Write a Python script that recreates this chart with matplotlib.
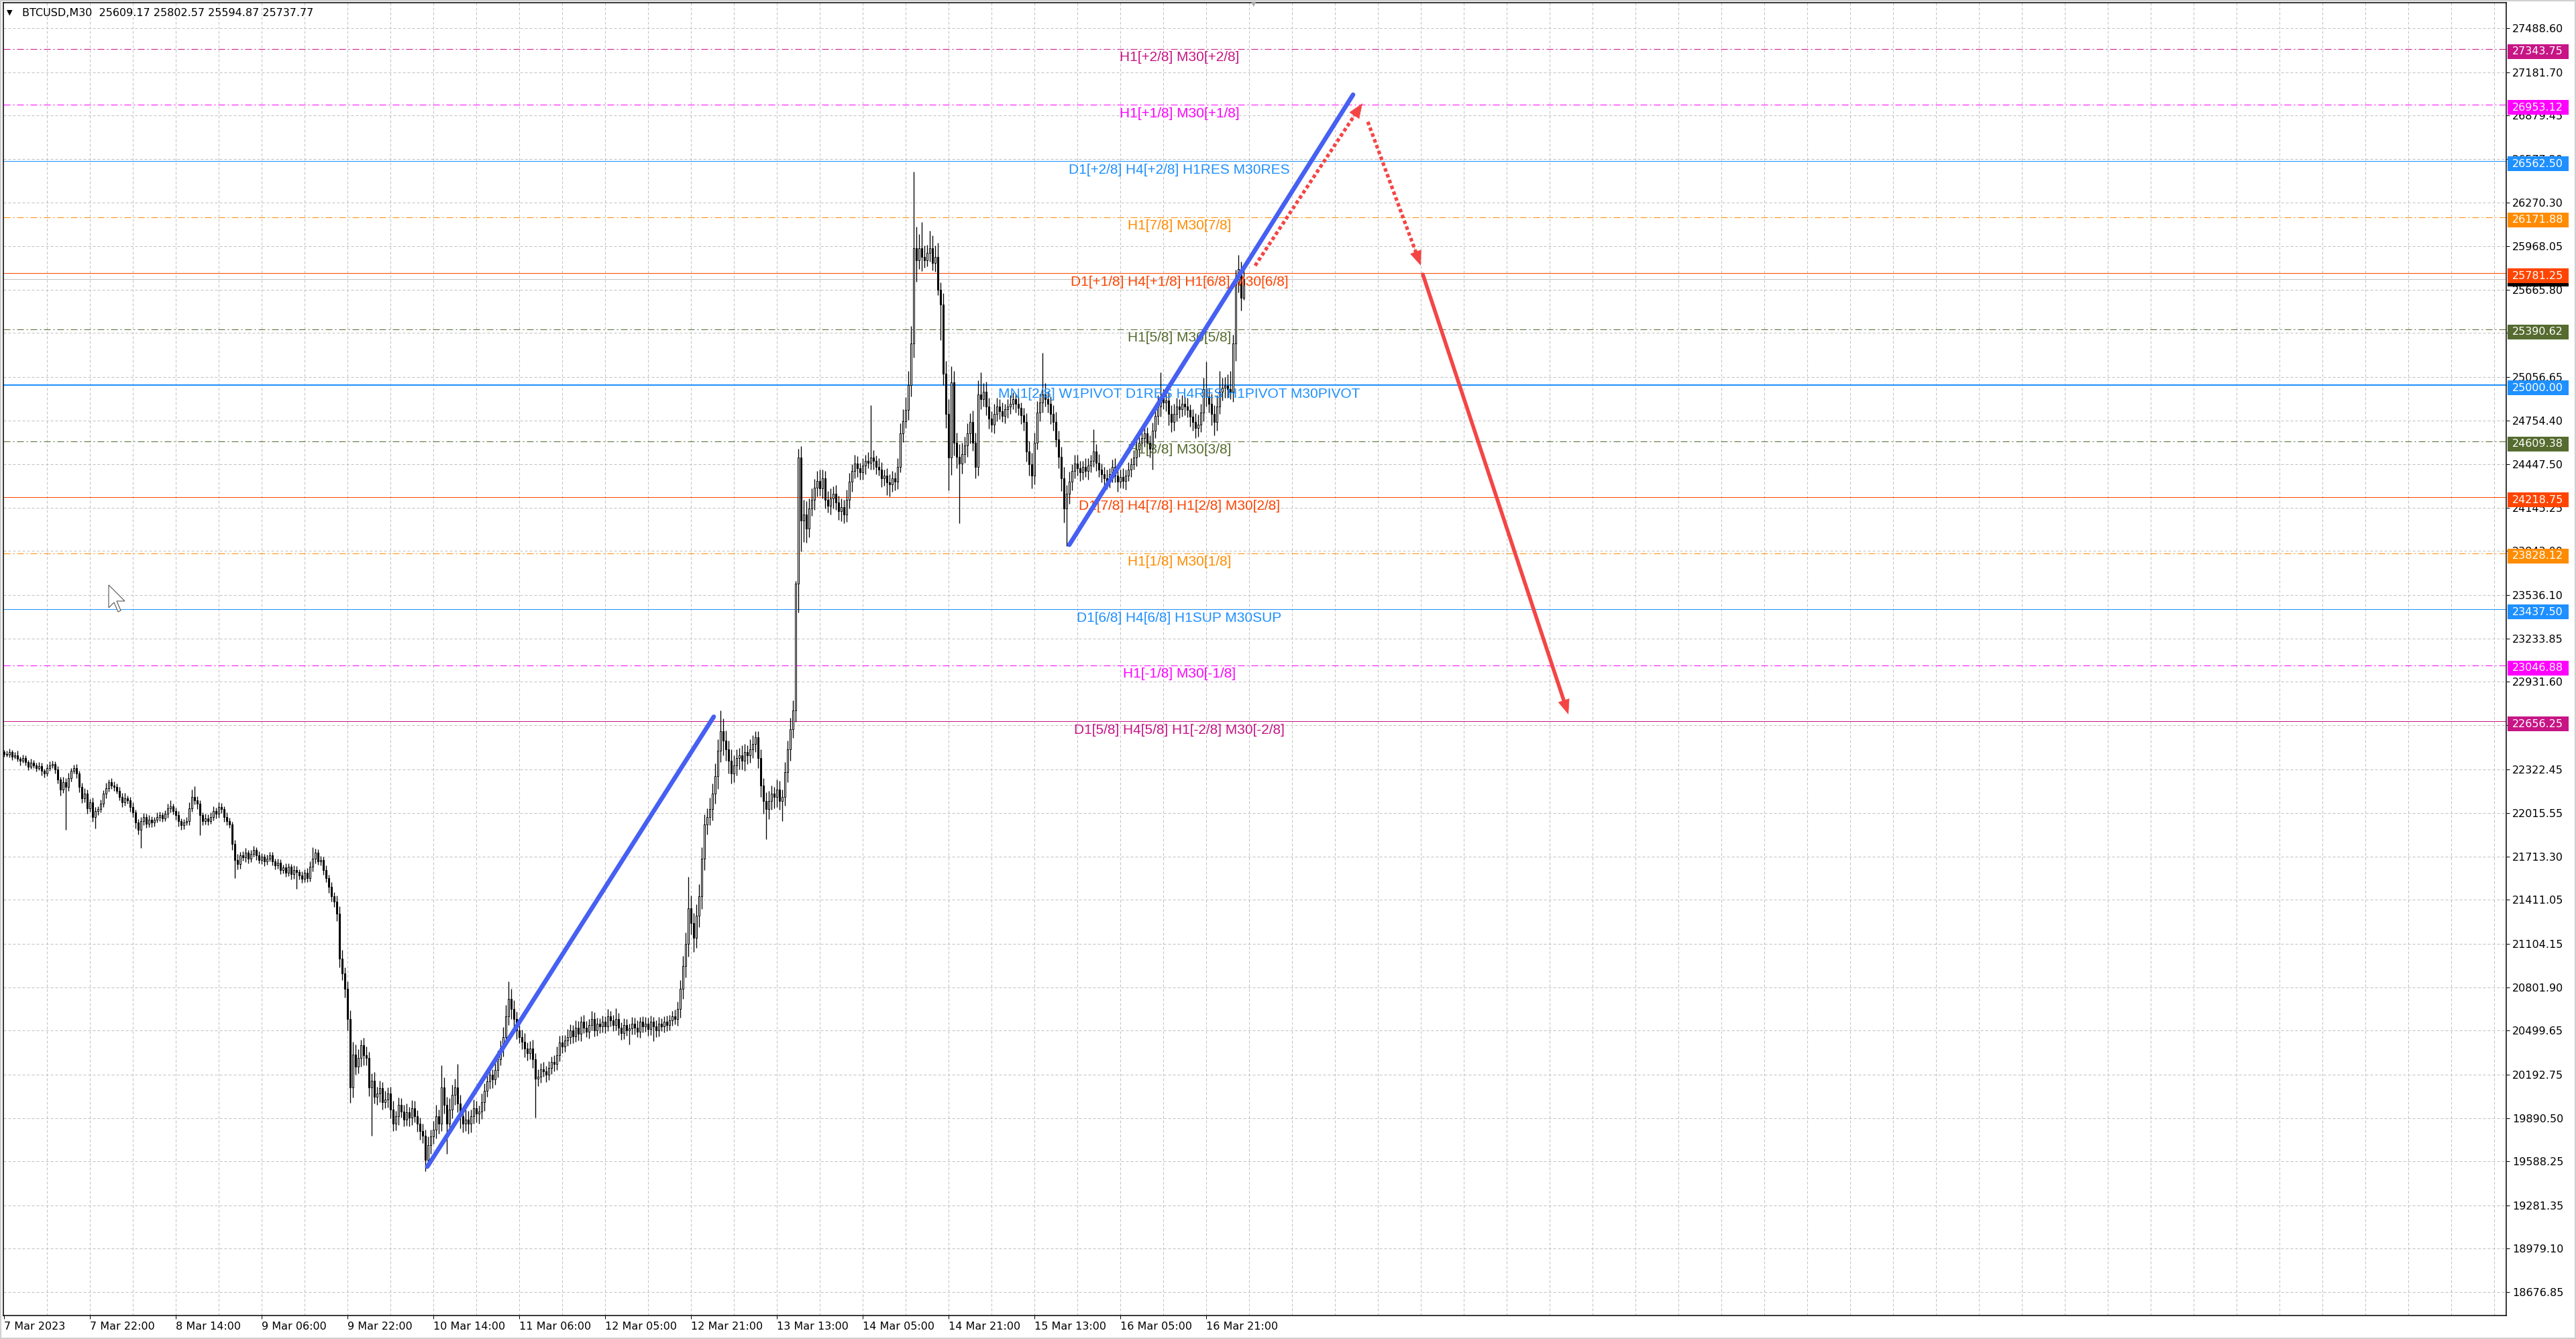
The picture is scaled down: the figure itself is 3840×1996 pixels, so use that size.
import numpy as np
import matplotlib.pyplot as plt
import matplotlib.transforms as mtransforms
from matplotlib.patches import Rectangle, Polygon

plt.rcParams['font.family'] = 'DejaVu Sans'

# BTCUSD M30 closes, one per bar, starting 7 Mar 2023 06:00
close = [
22430, 22425, 22440, 22410, 22420, 22395, 22380, 22400, 22370, 22340, 22365, 22350, 22330, 22345, 22310, 22290, 22330, 22350, 22360, 22320,
22250, 22180, 22230, 22200, 22260, 22310, 22330, 22290, 22200, 22120, 22150, 22050, 22090, 21990, 22030, 22045, 22080, 22150, 22190, 22230,
22210, 22200, 22170, 22130, 22090, 22120, 22105, 22060, 22020, 21950, 21900, 21960, 21990, 21940, 21970, 21950, 21970, 21990, 22000, 21980,
22010, 22050, 22063, 22030, 22000, 21960, 21930, 21950, 21960, 22050, 22130, 22105, 22080, 22000, 21960, 21980, 21960, 21990, 22030, 22010,
22060, 22045, 21990, 21960, 21937, 21800, 21690, 21660, 21720, 21707, 21740, 21700, 21731, 21760, 21720, 21690, 21710, 21680, 21698, 21720,
21680, 21650, 21670, 21620, 21637, 21600, 21640, 21590, 21620, 21605, 21580, 21560, 21600, 21563, 21640, 21700, 21740, 21680, 21689, 21620,
21563, 21500, 21436, 21400, 21315, 21002, 20900, 20791, 20581, 20103, 20333, 20250, 20309, 20400, 20330, 20309, 20103, 20150, 20040, 20061,
20100, 20000, 20019, 20060, 19950, 19851, 19900, 19980, 19935, 19880, 19930, 19893, 19960, 19900, 19851, 19800, 19767, 19598, 19700, 19760,
19809, 19900, 19850, 20103, 19980, 19851, 19950, 20050, 20103, 19990, 19900, 19851, 19880, 19851, 19900, 19960, 19920, 19935, 20000, 20080,
20146, 20190, 20160, 20225, 20300, 20380, 20454, 20600, 20720, 20650, 20581, 20500, 20454, 20420, 20375, 20340, 20375, 20300, 20164, 20180,
20230, 20216, 20190, 20240, 20280, 20267, 20330, 20417, 20390, 20430, 20454, 20500, 20460, 20520, 20478, 20560, 20520, 20490, 20539, 20580,
20500, 20550, 20529, 20560, 20530, 20600, 20570, 20540, 20581, 20520, 20480, 20540, 20500, 20515, 20550, 20520, 20490, 20560, 20530, 20548,
20510, 20560, 20530, 20500, 20550, 20529, 20560, 20540, 20570, 20600, 20581, 20650, 20791, 20950, 21105, 21352, 21250, 21146, 21300, 21436,
21700, 21937, 21990, 22045, 22150, 22274, 22450, 22587, 22520, 22461, 22380, 22292, 22350, 22400, 22419, 22380, 22440, 22419, 22460, 22500,
22545, 22400, 22208, 22100, 22045, 22100, 22150, 22129, 22180, 22100, 22129, 22300, 22461, 22600, 22732, 23616, 24495, 24056, 24100, 24000,
24140, 24200, 24285, 24330, 24280, 24350, 24200, 24160, 24210, 24243, 24180, 24121, 24150, 24098, 24200, 24327, 24400, 24453, 24420, 24392,
24440, 24472, 24460, 24495, 24470, 24430, 24411, 24350, 24370, 24320, 24308, 24350, 24327, 24430, 24664, 24750, 24827, 25000, 25290, 25955,
25870, 25955, 25894, 25870, 25920, 25955, 25850, 25894, 25665, 25562, 25080, 24800, 24495, 25019, 24598, 24500, 24453, 24520, 24580, 24664,
24743, 24600, 24430, 24935, 24900, 24954, 24850, 24767, 24725, 24800, 24851, 24820, 24785, 24830, 24850, 24870, 24900, 24870, 24840, 24790,
24743, 24537, 24450, 24369, 24600, 24809, 24880, 24935, 24900, 24870, 24800, 24743, 24621, 24500, 24350, 24140, 24243, 24327, 24400, 24453,
24420, 24392, 24430, 24400, 24440, 24472, 24537, 24460, 24411, 24380, 24350, 24327, 24380, 24430, 24370, 24327, 24360, 24330, 24370, 24411,
24450, 24495, 24550, 24598, 24630, 24664, 24600, 24556, 24680, 24785, 24850, 24911, 24880, 24893, 24800, 24743, 24800, 24851, 24830, 24870,
24850, 24827, 24780, 24743, 24700, 24725, 24809, 24972, 24920, 24870, 24800, 24743, 24851, 24954, 24980, 24996, 24970, 24954, 25290, 25706,
25809, 25609.17, 25737.77]
open0 = 22440

# wick sizes above / below the candle body
upper = [
15, 20, 25, 15, 20, 30, 15, 25, 20, 15, 30, 20, 15, 25, 20, 15, 30, 25, 20, 15,
25, 20, 40, 30, 35, 20, 25, 30, 20, 25, 40, 30, 25, 35, 30, 20, 30, 25, 35, 20,
30, 25, 20, 30, 25, 35, 20, 25, 30, 20, 25, 30, 25, 20, 30, 25, 20, 30, 25, 20,
25, 30, 40, 20, 25, 30, 20, 25, 30, 40, 50, 75, 30, 25, 20, 30, 25, 30, 35, 25,
30, 25, 20, 30, 25, 20, 30, 40, 25, 30, 35, 20, 30, 25, 20, 30, 25, 20, 30, 25,
25, 20, 30, 25, 20, 30, 25, 20, 30, 25, 20, 30, 25, 35, 40, 78, 30, 25, 30, 25,
30, 25, 35, 30, 40, 50, 60, 40, 50, 60, 90, 70, 60, 35, 50, 60, 40, 50, 60, 45,
50, 40, 60, 45, 50, 60, 40, 55, 50, 45, 60, 40, 55, 50, 45, 40, 50, 40, 60, 50,
60, 80, 50, 155, 70, 60, 80, 70, 60, 164, 60, 50, 70, 60, 50, 60, 50, 40, 60, 50,
50, 60, 40, 50, 60, 50, 70, 80, 122, 70, 60, 50, 40, 50, 60, 40, 50, 60, 40, 50,
40, 50, 35, 45, 40, 50, 60, 45, 50, 40, 55, 45, 40, 50, 45, 40, 50, 45, 40, 56,
45, 40, 35, 45, 40, 50, 35, 40, 74, 40, 35, 45, 40, 35, 45, 40, 50, 35, 40, 45,
40, 45, 35, 40, 45, 35, 40, 45, 40, 35, 45, 50, 60, 70, 80, 220, 90, 70, 80, 84,
80, 70, 60, 80, 70, 90, 80, 144, 90, 70, 60, 80, 70, 60, 50, 70, 60, 50, 70, 60,
40, 40, 60, 50, 60, 70, 60, 50, 70, 60, 50, 70, 60, 80, 70, 20, 60, 80, 100, 90,
70, 80, 60, 70, 80, 60, 50, 60, 70, 50, 60, 50, 60, 50, 70, 60, 50, 60, 50, 40,
50, 40, 60, 365, 50, 40, 60, 50, 40, 50, 60, 50, 40, 60, 70, 80, 90, 100, 120, 533,
150, 100, 180, 80, 60, 120, 90, 80, 100, 50, 80, 90, 100, 110, 80, 70, 90, 80, 60, 70,
60, 80, 70, 100, 155, 60, 70, 60, 50, 70, 60, 50, 60, 40, 50, 60, 50, 40, 50, 40,
50, 60, 70, 80, 70, 80, 60, 290, 80, 60, 50, 60, 70, 60, 70, 80, 60, 70, 50, 60,
60, 50, 40, 60, 50, 40, 155, 50, 60, 40, 50, 60, 40, 50, 60, 40, 50, 60, 40, 50,
40, 50, 60, 40, 50, 60, 40, 50, 60, 70, 80, 179, 60, 70, 50, 60, 70, 60, 50, 60,
50, 60, 40, 50, 60, 70, 60, 80, 192, 60, 70, 60, 80, 144, 70, 60, 80, 130, 60, 100,
100, 50, 64.8]
lower = [
20, 15, 20, 25, 15, 20, 30, 15, 20, 25, 15, 20, 25, 15, 30, 25, 15, 20, 20, 30,
30, 40, 25, 300, 30, 25, 20, 30, 40, 35, 30, 40, 25, 35, 82, 30, 25, 20, 30, 25,
25, 30, 20, 25, 30, 20, 25, 35, 30, 40, 35, 125, 30, 25, 20, 30, 25, 20, 30, 25,
20, 25, 30, 25, 30, 35, 30, 25, 20, 30, 25, 30, 35, 140, 30, 25, 30, 20, 25, 30,
25, 30, 35, 30, 25, 40, 127, 35, 30, 25, 30, 35, 25, 20, 30, 25, 30, 35, 25, 20,
30, 25, 20, 30, 25, 30, 25, 35, 30, 117, 25, 30, 25, 30, 25, 30, 35, 25, 30, 35,
30, 40, 35, 40, 50, 60, 50, 60, 80, 107, 70, 60, 50, 60, 70, 50, 60, 336, 50, 60,
60, 50, 40, 55, 60, 50, 45, 60, 40, 50, 45, 60, 50, 40, 55, 60, 50, 79, 45, 60,
50, 60, 70, 50, 60, 211, 50, 60, 70, 60, 80, 60, 50, 70, 60, 50, 60, 70, 50, 60,
40, 50, 60, 40, 50, 40, 60, 50, 60, 70, 50, 60, 40, 50, 60, 50, 40, 60, 271, 50,
45, 40, 50, 35, 45, 50, 40, 45, 50, 40, 35, 45, 50, 40, 45, 50, 40, 35, 45, 40,
40, 35, 45, 40, 50, 35, 40, 45, 40, 50, 45, 40, 35, 97, 40, 45, 35, 40, 45, 40,
45, 40, 103, 45, 40, 35, 40, 45, 40, 35, 40, 45, 60, 70, 80, 90, 80, 100, 70, 80,
90, 80, 70, 60, 80, 70, 90, 80, 100, 80, 90, 70, 60, 70, 80, 60, 70, 60, 50, 60,
60, 70, 80, 90, 210, 70, 60, 80, 70, 60, 140, 60, 70, 80, 60, 80, 200, 216, 150, 100,
60, 50, 70, 60, 50, 70, 60, 50, 60, 70, 50, 60, 70, 60, 50, 60, 70, 50, 60, 50,
50, 60, 40, 50, 60, 50, 40, 60, 50, 85, 85, 50, 60, 50, 40, 60, 50, 70, 80, 100,
150, 60, 100, 50, 40, 60, 50, 60, 40, 250, 80, 100, 229, 120, 90, 80, 416, 70, 60, 80,
70, 60, 80, 60, 70, 50, 60, 70, 50, 60, 50, 60, 40, 50, 60, 50, 40, 60, 50, 60,
60, 70, 80, 90, 60, 50, 60, 70, 50, 60, 70, 60, 50, 80, 90, 100, 262, 70, 60, 50,
50, 60, 50, 40, 60, 50, 40, 60, 50, 60, 70, 50, 40, 60, 50, 70, 40, 50, 60, 40,
50, 40, 60, 50, 40, 60, 70, 60, 145, 50, 60, 70, 50, 60, 80, 70, 60, 50, 60, 50,
60, 50, 70, 60, 70, 60, 50, 60, 70, 60, 80, 93, 60, 50, 60, 70, 60, 50, 70, 120,
60, 89, 14.3]

time_labels = ['7 Mar 2023', '7 Mar 22:00', '8 Mar 14:00', '9 Mar 06:00', '9 Mar 22:00',
               '10 Mar 14:00', '11 Mar 06:00', '12 Mar 05:00', '12 Mar 21:00', '13 Mar 13:00',
               '14 Mar 05:00', '14 Mar 21:00', '15 Mar 13:00', '16 Mar 05:00', '16 Mar 21:00']
time_bars = [0, 32, 64, 96, 128, 160, 192, 224, 256, 288, 320, 352, 384, 416, 448]

price_ticks = [27488.60, 27181.70, 26879.45, 26577.20, 26270.30, 25968.05, 25665.80, 25363.55,
               25056.65, 24754.40, 24447.50, 24145.25, 23843.00, 23536.10, 23233.85, 22931.60,
               22629.35, 22322.45, 22015.55, 21713.30, 21411.05, 21104.15, 20801.90, 20499.65,
               20192.75, 19890.50, 19588.25, 19281.35, 18979.10, 18676.85]

lvl_price = [27343.75, 26953.12, 26562.50, 26171.88, 25781.25, 25390.62, 25000.00,
             24609.38, 24218.75, 23828.12, 23437.50, 23046.88, 22656.25]
lvl_color = ['#C71585', '#FF00FF', '#1E90FF', '#FF8C00', '#FF4500', '#556B2F', '#1E90FF',
             '#556B2F', '#FF4500', '#FF8C00', '#1E90FF', '#FF00FF', '#C71585']
lvl_dashed = [True, True, False, True, False, True, False, True, False, True, False, True, False]
lvl_text = ['H1[+2/8] M30[+2/8]', 'H1[+1/8] M30[+1/8]', 'D1[+2/8] H4[+2/8] H1RES M30RES',
            'H1[7/8] M30[7/8]', 'D1[+1/8] H4[+1/8] H1[6/8] M30[6/8]', 'H1[5/8] M30[5/8]',
            'MN1[2/8] W1PIVOT D1RES H4RES H1PIVOT M30PIVOT', 'H1[3/8] M30[3/8]',
            'D1[7/8] H4[7/8] H1[2/8] M30[2/8]', 'H1[1/8] M30[1/8]', 'D1[6/8] H4[6/8] H1SUP M30SUP',
            'H1[-1/8] M30[-1/8]', 'D1[5/8] H4[5/8] H1[-2/8] M30[-2/8]']
bid = 25737.77

trend1_x, trend1_y = [157.75, 264.5], [19551, 22688]
trend2_x, trend2_y = [397.0, 502.75], [23887, 27025]
dot_up_x, dot_up_y = [466.25, 506.25], [25833, 26965]
dot_dn_x, dot_dn_y = [508.25, 528.0], [26836, 25833]
fall_x, fall_y = [528.75, 583.0], [25772, 22704]

# ---- layout (pixels) ----
W, H = 3840, 1996
px_bar = 4.0
k = (price_ticks[0] - price_ticks[-1]) / (1926 - 42)   # price per pixel
ytop = price_ticks[0] + (42 - 4) * k
ybot = price_ticks[-1] - (1961 - 1926) * k

fig = plt.figure(figsize=(W / 100, H / 100), dpi=100)
fig.patch.set_facecolor('white')
ax = fig.add_axes([5 / W, 35 / H, 3731 / W, 1957 / H])
ax.set_xlim(-0.25, -0.25 + 3731 / px_bar)
ax.set_ylim(ybot, ytop)

grid_col = '#c0c0c0'
for p in price_ticks:
    ax.axhline(p, color=grid_col, lw=0.72, ls=(0, (4, 3)), zorder=0)
for i in range(16, 933, 16):
    ax.axvline(i, color=grid_col, lw=0.72, ls=(0, (4, 3)), zorder=0)

# levels
for p, col, d in zip(lvl_price, lvl_color, lvl_dashed):
    if d:
        ax.axhline(p, color=col, lw=0.72, ls=(0, (10, 4, 2, 4)), zorder=1)
    else:
        ax.axhline(p, color=col, lw=1.44 if p == 25000.00 else 0.72, zorder=1)
ax.axhline(bid, color='#c0c0c0', lw=0.72, zorder=1)

# candles
c = np.array(close, dtype=float)
o = np.array([open0] + close[:-1], dtype=float)
hi = np.maximum(o, c) + np.array(upper)
lo = np.minimum(o, c) - np.array(lower)
x = np.arange(len(c))
ax.vlines(x, lo, hi, color='black', lw=0.95, zorder=2)
face = np.where(c >= o, 'white', 'black')
ax.bar(x, np.abs(c - o), bottom=np.minimum(o, c), width=0.62, color=face,
       edgecolor='black', linewidth=0.75, zorder=3)

# level texts
for p, col, t in zip(lvl_price, lvl_color, lvl_text):
    ax.annotate(t, xy=(438, p), xytext=(0, -18.5), textcoords='offset pixels',
                ha='center', va='baseline', color=col, fontsize=15,
                family='Liberation Sans', zorder=4)

# trend lines
blue = '#4560F2'
red = '#F44545'
ax.plot(trend1_x, trend1_y, color=blue, lw=4.8, solid_capstyle='round', zorder=5)
ax.plot(trend2_x, trend2_y, color=blue, lw=4.8, solid_capstyle='round', zorder=5)


def arrow(xs, ys, dotted):
    dxp = (xs[1] - xs[0]) * px_bar
    dyp = (ys[1] - ys[0]) / k
    L = np.hypot(dxp, dyp)
    t = 1 - 16 / L
    xe = xs[0] + (xs[1] - xs[0]) * t
    ye = ys[0] + (ys[1] - ys[0]) * t
    if dotted:
        ax.plot([xs[0], xe], [ys[0], ye], color=red, lw=3.8, ls=(0, (1.0, 0.75)),
                dash_capstyle='butt', zorder=6)
    else:
        ax.plot([xs[0], xe], [ys[0], ye], color=red, lw=4.0, solid_capstyle='round', zorder=6)
    tb = 1 - 30 / L
    ax.annotate('', xy=(xs[1], ys[1]),
                xytext=(xs[0] + (xs[1] - xs[0]) * tb, ys[0] + (ys[1] - ys[0]) * tb),
                arrowprops=dict(arrowstyle='-|>,head_length=0.75,head_width=0.3',
                                mutation_scale=20, color=red, lw=0.5,
                                shrinkA=0, shrinkB=0), zorder=6)


arrow(dot_up_x, dot_up_y, True)
arrow(dot_dn_x, dot_dn_y, True)
arrow(fall_x, fall_y, False)

# axes styling
for s in ax.spines.values():
    s.set_color('black')
    s.set_linewidth(1.1)
ax.yaxis.tick_right()
ax.set_yticks(price_ticks)
ax.set_yticklabels(['%.2f' % p for p in price_ticks])
ax.tick_params(axis='y', length=3.6, width=0.72, pad=3, labelsize=11.5, colors='black')
ax.set_xticks(time_bars)
ax.set_xticklabels(time_labels, ha='left')
ax.tick_params(axis='x', length=3.6, width=0.72, pad=3, labelsize=11.5, colors='black')

# price tags on the axis (bid tag sits under the level tags)
blend = mtransforms.blended_transform_factory(fig.transFigure, ax.transData)
fig.add_artist(Rectangle((3738 / W, bid - 11 * k), 91 / W, 22 * k, transform=blend,
                         facecolor='black', edgecolor='none', clip_on=False, zorder=10))
fig.text(3745 / W, bid, '%.2f' % bid, transform=blend, color='white', fontsize=11.5,
         ha='left', va='center', zorder=11)
for p, col in zip(lvl_price, lvl_color):
    fig.add_artist(Rectangle((3738 / W, p - 15 * k), 91 / W, 22 * k, transform=blend,
                             facecolor=col, edgecolor='none', clip_on=False, zorder=12))
    fig.text(3745 / W, p - 4 * k, '%.2f' % p, transform=blend, color='white', fontsize=11.5,
             ha='left', va='center', zorder=13)

# header
fig.text(10 / W, 1 - 19 / H, '\u25bc', fontsize=8, va='center', ha='left')
fig.text(33 / W, 1 - 19 / H, 'BTCUSD,M30  25609.17 25802.57 25594.87 25737.77',
         fontsize=11.5, va='center', ha='left')
# chart shift marker
fig.text(1869 / W, 1 - 6 / H, '\u25bc', fontsize=7, color='#a8a8a8', va='center', ha='center')

# mouse pointer
cur = np.array([[0, 0], [0, 17], [4, 13], [7, 20], [9, 19], [6, 12], [12, 12]]) * 2.0
fig.add_artist(Polygon(np.column_stack([162 + cur[:, 0], H - 872 - cur[:, 1]]), closed=True,
                       transform=mtransforms.IdentityTransform(), facecolor='white',
                       edgecolor='#555555', lw=0.8))

# outer frame
fig.add_artist(Rectangle((0, 0), 1, 1, transform=fig.transFigure, facecolor='none',
                         edgecolor='#d0d0d0', lw=3))

fig.savefig('out.png', dpi=100)
